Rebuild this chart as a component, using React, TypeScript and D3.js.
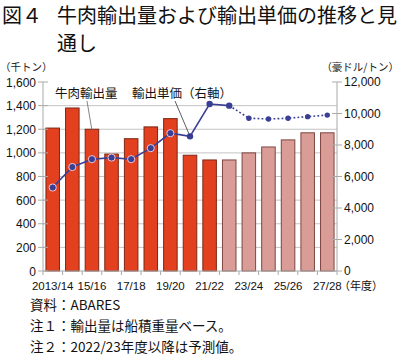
import * as d3 from "d3";

const years = [
  "2013/14", "2014/15", "2015/16", "2016/17", "2017/18", "2018/19", "2019/20", "2020/21",
  "2021/22", "2022/23", "2023/24", "2024/25", "2025/26", "2026/27", "2027/28",
];
const tickLabels = ["2013/14", "15/16", "17/18", "19/20", "21/22", "23/24", "25/26", "27/28"];
// 千トン
const volume = [1210, 1380, 1200, 990, 1120, 1220, 1290, 980, 940, 940, 1000, 1050, 1110, 1170, 1170];
// 豪ドル/トン
const price = [5300, 6600, 7100, 7200, 7100, 7800, 8750, 8550, 10600, 10500, 9700, 9650, 9700, 9800, 9900];
const leftTicks = [0, 200, 400, 600, 800, 1000, 1200, 1400, 1600];
const rightTicks = [0, 2000, 4000, 6000, 8000, 10000, 12000];
const forecastFrom = 9;

const W = 400;
const H = 358;
const plot = { left: 43, right: 337, top: 82, bottom: 271 };
const JP = "'Noto Sans CJK JP', sans-serif";
const NUM = "'Liberation Sans', Arial, sans-serif";

export default function App() {
  const x = d3.scaleBand<string>().domain(years).range([plot.left, plot.right]).paddingInner(0.31).paddingOuter(0.15);
  const yL = d3.scaleLinear().domain([0, 1600]).range([plot.bottom, plot.top]);
  const yR = d3.scaleLinear().domain([0, 12000]).range([plot.bottom, plot.top]);
  const cx = (i: number) => (x(years[i]) as number) + x.bandwidth() / 2;

  const line = d3
    .line<number>()
    .x((_, i) => cx(i))
    .y((d) => yR(d));
  const actualPath = line(price.slice(0, forecastFrom + 1)) as string;
  const forecastLine = d3
    .line<number>()
    .x((_, i) => cx(i + forecastFrom))
    .y((d) => yR(d));
  const forecastPath = forecastLine(price.slice(forecastFrom)) as string;

  // tick marks between categories on the bottom axis
  const boundaries = d3.range(years.length + 1).map((i) => plot.left + i * ((plot.right - plot.left) / years.length));

  return (
    <svg width={W} height={H} style={{ position: "absolute", left: 0, top: 0, background: "#fff" }}>
      {/* title */}
      <text x={2} y={23} fontFamily={JP} fontSize={20} fill="#111">図４</text>
      <text x={57} y={23} fontFamily={JP} fontSize={20} fill="#111">牛肉輸出量および輸出単価の推移と見</text>
      <text x={57} y={51} fontFamily={JP} fontSize={20} fill="#111">通し</text>

      {/* unit labels */}
      <text x={0} y={71} fontFamily={JP} fontSize={10.5} fill="#222">（千トン）</text>
      <text x={399} y={71} fontFamily={JP} fontSize={10.5} fill="#222" textAnchor="end">（豪ドル/トン）</text>

      {/* gridlines */}
      {leftTicks.slice(1, -1).map((t) => (
        <line key={t} x1={plot.left} x2={plot.right} y1={yL(t)} y2={yL(t)} stroke="#c4c4c4" strokeWidth={1} />
      ))}

      {/* bars */}
      {volume.map((v, i) => (
        <rect
          key={years[i]}
          x={x(years[i])}
          y={yL(v)}
          width={x.bandwidth()}
          height={plot.bottom - yL(v)}
          fill={i < forecastFrom ? "#e2401e" : "#d99c96"}
          stroke={i < forecastFrom ? "#7d2716" : "#7e4741"}
          strokeWidth={1}
        />
      ))}

      {/* axes */}
      <line x1={plot.left} x2={plot.left} y1={plot.top} y2={plot.bottom} stroke="#aaa" />
      <line x1={plot.right} x2={plot.right} y1={plot.top} y2={plot.bottom} stroke="#aaa" />
      <line x1={plot.left} x2={plot.right} y1={plot.bottom} y2={plot.bottom} stroke="#aaa" />
      {leftTicks.map((t) => (
        <g key={"l" + t}>
          <line x1={plot.left - 5} x2={plot.left + 5} y1={yL(t)} y2={yL(t)} stroke="#aaa" />
          <text x={36} y={yL(t) + 4.5} textAnchor="end" fontFamily={NUM} fontSize={12} fill="#111">
            {d3.format(",")(t)}
          </text>
        </g>
      ))}
      {rightTicks.map((t) => (
        <g key={"r" + t}>
          <line x1={plot.right - 5} x2={plot.right + 5} y1={yR(t)} y2={yR(t)} stroke="#aaa" />
          <text x={344} y={yR(t) + 4} fontFamily={NUM} fontSize={12} fill="#111">
            {d3.format(",")(t)}
          </text>
        </g>
      ))}
      {boundaries.map((b, i) => (
        <line key={"b" + i} x1={b} x2={b} y1={plot.bottom} y2={plot.bottom + 4} stroke="#aaa" />
      ))}
      {tickLabels.map((t, i) => (
        <text key={t} x={cx(i * 2)} y={289.5} textAnchor="middle" fontFamily={NUM} fontSize={11.5} fill="#111">
          {t}
        </text>
      ))}
      <text x={339} y={289.5} fontFamily={JP} fontSize={11} fill="#111">（年度）</text>

      {/* price line */}
      <path d={actualPath} fill="none" stroke="#3a3f96" strokeWidth={1.6} />
      <path d={forecastPath} fill="none" stroke="#3a3f96" strokeWidth={1.6} strokeDasharray="1.8,2.2" />
      {price.map((p, i) =>
        i < 7 ? (
          <circle key={"p" + i} cx={cx(i)} cy={yR(p)} r={3.6} fill="#3a3f96" stroke="#f1c6d0" strokeWidth={1} />
        ) : (
          <circle key={"p" + i} cx={cx(i)} cy={yR(p)} r={i <= forecastFrom ? 3.2 : 2.7} fill="#3a3f96" />
        )
      )}

      {/* annotations */}
      <text x={55} y={98} fontFamily={JP} fontSize={12.5} fill="#111">牛肉輸出量</text>
      <line x1={87} y1={101} x2={cx(2)} y2={yL(volume[2]) + 1} stroke="#666" strokeWidth={0.8} />
      <text x={132} y={98} fontFamily={JP} fontSize={12.5} fill="#111">輸出単価（右軸）</text>
      <line x1={175} y1={101} x2={cx(7)} y2={yR(price[7])} stroke="#333" strokeWidth={0.8} />

      {/* notes */}
      <text x={30} y={310} fontFamily={JP} fontSize={13.5} fill="#111">資料：ABARES</text>
      <text x={30} y={331} fontFamily={JP} fontSize={13.5} fill="#111">注１：輸出量は船積重量ベース。</text>
      <text x={30} y={352} fontFamily={JP} fontSize={13.5} fill="#111">注２：2022/23年度以降は予測値。</text>
    </svg>
  );
}
